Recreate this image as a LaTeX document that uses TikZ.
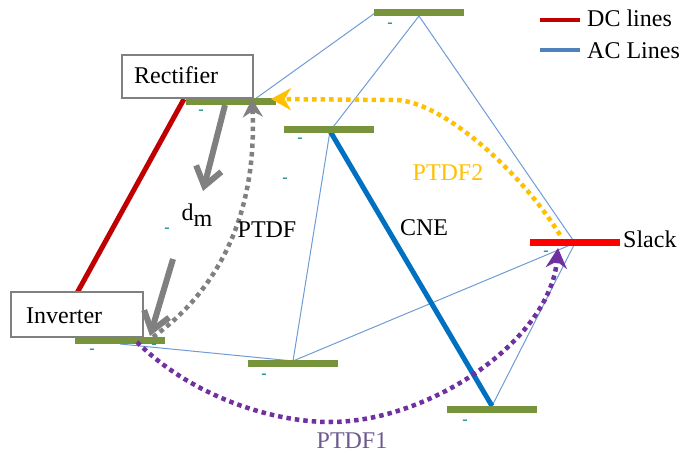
\documentclass[tikz,border=0pt]{standalone}
\usepackage{fontspec}
\setmainfont{Liberation Serif}
\usetikzlibrary{arrows.meta}
\definecolor{busgreen}{HTML}{77933C}
\definecolor{dcred}{HTML}{C00000}
\definecolor{acblue}{HTML}{6F9BD6}
\definecolor{legblue}{HTML}{4F81BD}
\definecolor{cneblue}{HTML}{0070C0}
\definecolor{slackred}{HTML}{FF0000}
\definecolor{ptdfgray}{HTML}{808080}
\definecolor{ptdfyellow}{HTML}{FFC000}
\definecolor{ptdfpurple}{HTML}{7030A0}
\definecolor{labpurple}{HTML}{6E5A8E}
\definecolor{dashteal}{HTML}{1F8A8A}
\definecolor{boxgray}{HTML}{808080}
\begin{document}
\begin{tikzpicture}[x=1pt,y=-1pt,
  every node/.style={font=\rmfamily\fontsize{24}{28}\selectfont, inner sep=0pt},
  bus/.style={fill=busgreen, minimum width=90pt, minimum height=7pt, inner sep=0pt, draw=none},
  slackbus/.style={bus, fill=slackred},
  acline/.style={draw=acblue, line width=1pt},
  cne/.style={draw=cneblue, line width=5pt},
  dcline/.style={draw=dcred, line width=5pt},
  flowarrow/.style={draw=ptdfgray, line width=6pt, -{Straight Barb[length=18pt,width=26pt]}},
  dotarrow/.style={line width=4.5pt, dash pattern=on 4.5pt off 4pt},
  stationbox/.style={draw=boxgray, line width=1.2pt, fill=white, inner sep=0pt},
  tick/.style={text=dashteal, font=\rmfamily\bfseries\fontsize{16}{16}\selectfont, inner sep=0pt},
  lab/.style={anchor=base},
]
\useasboundingbox (0,0) rectangle (679,452);

% connection points
\coordinate (ctop) at (419,16);
\coordinate (ctopleft) at (375,13);
\coordinate (crectac) at (255,99);
\coordinate (crectdc) at (184,99);
\coordinate (cb3) at (330,131);
\coordinate (cinv) at (120,344);
\coordinate (cmid) at (293,361);
\coordinate (cbr) at (492,406);
\coordinate (cslack) at (575,243);
\coordinate (cinvbox) at (77,293);

% AC lines
\draw[acline] (crectac) -- (ctopleft);
\draw[acline] (ctop) -- (cb3);
\draw[acline] (ctop) -- (cslack);
\draw[acline] (cb3) -- (cmid);
\draw[acline] (cinv) -- (cmid);
\draw[acline] (cmid) -- (cslack);
\draw[acline] (cslack) -- (cbr);
\draw[cne] (cb3) -- (cbr);
% DC line
\draw[dcline] (crectdc) -- (cinvbox);

% buses
\node[bus] (btop) at (419,12.5) {};
\node[bus] (brect) at (230.5,101.5) {};
\node[bus] (b3) at (329,129.5) {};
\node[bus] (binv) at (120,340) {};
\node[bus] (bmid) at (293,363) {};
\node[bus] (bbr) at (492,409.5) {};
\node[slackbus] (bslack) at (574.5,242) {};

% station boxes
\node[stationbox, minimum width=131pt, minimum height=43pt] (rbox) at (187.5,76.5) {};
\node[stationbox, minimum width=132pt, minimum height=45pt] (ibox) at (77,314.5) {};
\node[anchor=base west] (lrect) at (134,83) {Rectifier};
\node[anchor=base west] (linv) at (26,323) {Inverter};

% teal ticks
\node[tick] (t1) at (201,112) {-};
\node[tick] (t2) at (300,140) {-};
\node[tick] (t3) at (285,180) {-};
\node[tick] (t4) at (167,230) {-};
\node[tick] (t5) at (92,351) {-};
\node[tick] (t6) at (154,346) {-};
\node[tick] (t7) at (264,376) {-};
\node[tick] (t8) at (465,422) {-};
\node[tick] (t9) at (546,253) {-};
\node[tick] (t10) at (390,25) {-};

% gray dm arrows
\coordinate (ga1s) at (225,105);
\coordinate (ga1e) at (203,191);
\coordinate (ga2s) at (173,259);
\coordinate (ga2e) at (150,336);
\draw[flowarrow] (ga1s) -- (ga1e);
\draw[flowarrow] (ga2s) -- (ga2e);

% PTDF dotted arrows
\coordinate (pgs) at (153,337);
\coordinate (pge) at (252,99);
\draw[dotarrow, draw=ptdfgray, -{Stealth[length=18pt,width=20pt]}]
  (pgs) .. controls (205,300) and (258,230) .. (pge);
\coordinate (pys) at (560,235);
\coordinate (pym) at (395,100);
\coordinate (pye) at (271,99);
\draw[dotarrow, draw=ptdfyellow, -{Stealth[length=20pt,width=22pt]}]
  (pys) .. controls (520,170) and (440,100) .. (pym) -- (pye);
\coordinate (pps) at (137,342);
\coordinate (ppm) at (330,422);
\coordinate (ppe) at (558,248);
\draw[dotarrow, draw=ptdfpurple, -{Stealth[length=20pt,width=21pt]}]
  (pps) .. controls (190,395) and (270,422) .. (ppm) .. controls (430,422) and (550,340) .. (ppe);

% labels
\node[lab] (ldm) at (197,220) {d\raisebox{-6pt}{m}};
\node[lab] (lptdf) at (267,237) {PTDF};
\node[lab] (lcne) at (424,235) {CNE};
\node[lab, text=ptdfyellow] (lptdf2) at (448,180) {PTDF2};
\node[lab, text=labpurple] (lptdf1) at (352,448) {PTDF1};
\node[anchor=base west] (lslack) at (623,247) {Slack};

% legend
\coordinate (dcA) at (540,20);
\coordinate (dcB) at (580,20);
\coordinate (acA) at (540,50);
\coordinate (acB) at (580,50);
\draw[draw=dcred, line width=4pt] (dcA) -- (dcB);
\draw[draw=legblue, line width=4pt] (acA) -- (acB);
\node[anchor=base west] (ldc) at (587,27) {DC lines};
\node[anchor=base west] (lac) at (587,59) {AC Lines};
\end{tikzpicture}
\end{document}
